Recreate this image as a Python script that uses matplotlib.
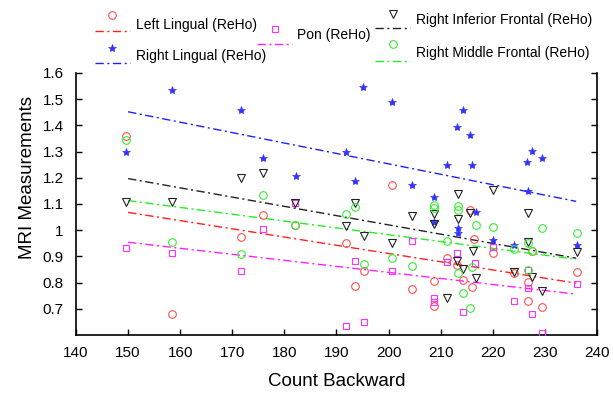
import matplotlib
matplotlib.use("Agg")
import matplotlib.pyplot as plt
from matplotlib.lines import Line2D

plt.rcParams['font.family'] = ['Liberation Sans', 'DejaVu Sans']

# ---------------- data ----------------
left_lingual_x = [149.6, 158.4, 171.6, 175.9, 182.1, 191.8, 193.6, 195.3, 200.7, 204.5, 208.7, 208.7,
                  211.3, 213.2, 214.3, 215.6, 216.3, 216.1, 220.0, 224.1, 226.7, 226.7, 227.6, 229.5, 236.2]
left_lingual_y = [1.36, 0.68, 0.973, 1.058, 1.018, 0.95, 0.786, 0.843, 1.174, 0.775, 0.806, 0.712,
                  0.893, 0.866, 0.81, 1.079, 0.965, 0.782, 0.914, 0.836, 0.802, 0.729, 0.92, 0.707, 0.84]

right_lingual_x = [149.6, 158.4, 171.7, 175.9, 182.2, 191.8, 193.6, 195.1, 200.7, 204.5, 208.7, 208.7,
                   211.2, 213.1, 213.3, 213.3, 214.3, 215.6, 216.1, 216.8, 220.0, 224.1, 226.6, 226.7,
                   227.6, 229.5, 236.2]
right_lingual_y = [1.30, 1.535, 1.459, 1.277, 1.208, 1.30, 1.186, 1.547, 1.488, 1.174, 1.128, 1.03,
                   1.25, 1.395, 1.007, 0.988, 1.459, 1.364, 1.25, 1.071, 0.963, 0.942, 1.262, 1.151,
                   1.303, 1.277, 0.944]

pon_x = [149.6, 158.4, 171.6, 175.9, 182.1, 191.8, 193.6, 195.3, 200.7, 204.5, 208.7, 208.7,
         211.3, 213.1, 214.3, 216.6, 220.0, 224.1, 226.7, 226.7, 227.6, 229.5, 236.2]
pon_y = [0.931, 0.912, 0.845, 1.003, 1.105, 0.635, 0.881, 0.65, 0.843, 0.957, 0.741, 0.726,
         0.878, 0.912, 0.688, 0.874, 0.935, 0.729, 0.849, 0.779, 0.68, 0.607, 0.794]

rif_x = [149.6, 158.4, 171.6, 175.9, 182.1, 191.8, 193.6, 195.3, 200.7, 204.5, 208.7, 208.7,
         211.3, 213.3, 213.3, 213.1, 214.3, 215.6, 216.2, 216.7, 220.0, 224.1, 226.7, 226.7,
         227.6, 229.5, 236.2]
rif_y = [1.108, 1.108, 1.2, 1.22, 1.105, 1.015, 1.105, 0.976, 0.95, 1.054, 1.06, 1.022,
         0.743, 1.14, 1.041, 0.881, 0.853, 1.066, 0.92, 0.817, 1.153, 0.84, 1.064, 0.954,
         0.82, 0.767, 0.916]

rmf_x = [149.6, 158.4, 171.6, 175.9, 182.1, 191.8, 193.6, 195.3, 200.7, 204.5, 208.7, 208.7,
         211.2, 213.3, 213.3, 213.3, 214.3, 215.6, 216.0, 216.8, 220.0, 224.1, 226.7, 226.7,
         227.6, 229.5, 236.2]
rmf_y = [1.345, 0.954, 0.908, 1.136, 1.018, 1.06, 1.087, 0.87, 0.893, 0.862, 1.098, 1.083,
         0.957, 1.094, 1.079, 0.836, 0.76, 0.703, 0.859, 1.018, 1.011, 0.927, 0.95, 0.847,
         0.92, 1.007, 0.988]

# regression line end points (x from fit_x)
fit_x = [150, 236]
fit_left_lingual = [1.068, 0.798]
fit_right_lingual = [1.452, 1.110]
fit_pon = [0.954, 0.756]
fit_rif = [1.197, 0.893]
fit_rmf = [1.113, 0.889]

labels = ["Left Lingual (ReHo)", "Right Lingual (ReHo)", "Pon (ReHo)",
          "Right Inferior Frontal (ReHo)", "Right Middle Frontal (ReHo)"]

x_ticks = [140, 150, 160, 170, 180, 190, 200, 210, 220, 230, 240]
y_ticks = [0.7, 0.8, 0.9, 1.0, 1.1, 1.2, 1.3, 1.4, 1.5, 1.6]
y_tick_labels = ["0.7", "0.8", "0.9", "1", "1.1", "1.2", "1.3", "1.4", "1.5", "1.6"]

# ---------------- figure ----------------
W, H = 613, 393
fig = plt.figure(figsize=(W / 100, H / 100), dpi=100)
ax = fig.add_axes([76 / W, 1 - 335 / H, (597 - 76) / W, (335 - 73) / H])

dash = (0, (6, 2.5, 1.5, 2.5))
styles = [
    dict(marker='o', mfc='none', mec='#ff5050', ms=5.5, mew=0.8, line='#ff2020'),
    dict(marker='*', mfc='#3333ff', mec='#3333ff', ms=6, mew=0.5, line='#2020ff'),
    dict(marker='s', mfc='none', mec='#ff30ff', ms=5, mew=0.8, line='#ff20ff'),
    dict(marker='v', mfc='none', mec='#222222', ms=6, mew=0.8, line='#222222'),
    dict(marker='o', mfc='none', mec='#33ee33', ms=5.5, mew=0.8, line='#22ee22'),
]
series = [(left_lingual_x, left_lingual_y, fit_left_lingual),
          (right_lingual_x, right_lingual_y, fit_right_lingual),
          (pon_x, pon_y, fit_pon),
          (rif_x, rif_y, fit_rif),
          (rmf_x, rmf_y, fit_rmf)]

for (xs, ys, fit), st in zip(series, styles):
    ax.plot(xs, ys, linestyle='none', marker=st['marker'], mfc=st['mfc'], mec=st['mec'],
            ms=st['ms'], mew=st['mew'], zorder=3)
    ax.plot(fit_x, fit, color=st['line'], lw=1.0, linestyle=dash, zorder=2)

ax.set_xlim(140, 240)
ax.set_ylim(0.6, 1.6)
ax.set_xticks(x_ticks)
ax.set_yticks(y_ticks)
ax.set_yticklabels(y_tick_labels)
ax.tick_params(axis='both', direction='in', length=4, width=1.0, labelsize=11)
ax.tick_params(axis='y', right=True, pad=9)
ax.tick_params(axis='x', pad=8)
ax.spines['top'].set_visible(False)
for s in ['left', 'right', 'bottom']:
    ax.spines[s].set_linewidth(1.2)

ax.set_xlabel("Count Backward", fontsize=13.5, labelpad=9)
ax.set_ylabel("MRI Measurements", fontsize=13.5)
ax.yaxis.set_label_coords(-0.076, 0.60)

# ---------------- legend (manual, MATLAB style) ----------------
def fx(px):
    return px / W

def fy(py):
    return 1 - py / H

legend_pos = [  # marker (x,y), line y, line x0, x1, text x, text y  (pixels from top-left)
    (112, 15, 31, 95, 130, 136, 25),
    (112, 48, 63, 95, 130, 136, 56),
    (275, 29, 44, 257, 292, 297, 35),
    (393, 14, 28, 375, 410, 416, 20),
    (393, 44, 61, 375, 410, 416, 53),
]
for lab, st, (mx, my, ly, lx0, lx1, tx, ty) in zip(labels, styles, legend_pos):
    fig.add_artist(Line2D([fx(mx)], [fy(my)], transform=fig.transFigure, linestyle='none',
                          marker=st['marker'], mfc=st['mfc'], mec=st['mec'], ms=st['ms'], mew=st['mew']))
    fig.add_artist(Line2D([fx(lx0), fx(lx1)], [fy(ly), fy(ly)], transform=fig.transFigure,
                          color=st['line'], lw=1.0, linestyle=dash))
    fig.text(fx(tx), fy(ty), lab, fontsize=10, ha='left', va='center')

fig.savefig("out.png", dpi=100)
